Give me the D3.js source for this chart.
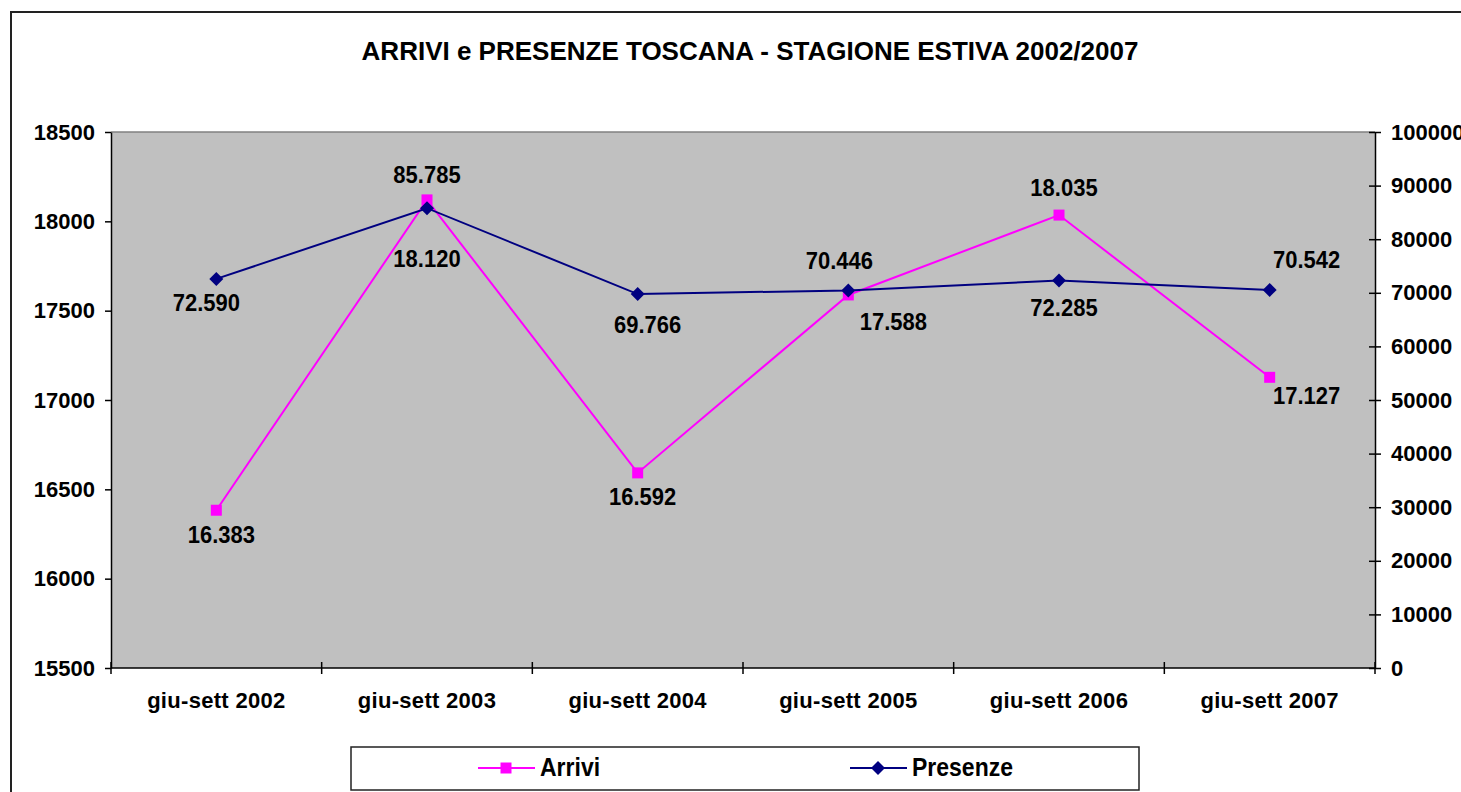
<!DOCTYPE html>
<html lang="it">
<head>
    <meta charset="UTF-8">
    <script src="https://d3js.org/d3.v7.min.js"></script>
    <title>Arrivi e presenze Toscana</title>
    <style>
        body { margin: 0; background: #fff; }
        text { font-family: "Liberation Sans", Arial, sans-serif; font-weight: bold; fill: #000; }
        .axis path, .axis line { stroke: #000; stroke-width: 1.5; }
        .axis text { font-size: 22px; }
    </style>
</head>
<body>
    <svg width="1461" height="792"></svg>
    <script>
        // data
        var categories = ["giu-sett 2002", "giu-sett 2003", "giu-sett 2004",
                          "giu-sett 2005", "giu-sett 2006", "giu-sett 2007"];
        var arrivi   = [16383, 18120, 16592, 17588, 18035, 17127];
        var presenze = [72590, 85785, 69766, 70446, 72285, 70542];
        var leftTicks  = [15500, 16000, 16500, 17000, 17500, 18000, 18500];
        var rightTicks = [0, 10000, 20000, 30000, 40000, 50000, 60000, 70000, 80000, 90000, 100000];
        var title = "ARRIVI e PRESENZE TOSCANA - STAGIONE ESTIVA 2002/2007";

        // where each value label sits relative to its point (dx, dy to baseline)
        var arriviLabelOff   = [[5, 33], [0, 67], [5, 32], [45, 35], [5, -19], [37, 27]];
        var presenzeLabelOff = [[-10, 32], [0, -25], [10, 39], [-9, -21], [5, 35], [37, -22]];

        var pink = "#ff00ff", navy = "#000080";
        var stretch = 1.12; // value labels look a bit taller than wide

        var svg = d3.select("svg");
        var pLeft = 111, pRight = 1375, pTop = 132, pBottom = 668;

        var it = d3.formatLocale({decimal: ",", thousands: ".", grouping: [3], currency: ["", "€"]});
        var fmt = it.format(",");

        var x = d3.scaleBand().domain(categories).range([pLeft, pRight]);
        var cx = function(c) { return x(c) + x.bandwidth() / 2; };
        var yL = d3.scaleLinear().domain([15500, 18500]).range([pBottom, pTop]);
        var yR = d3.scaleLinear().domain([0, 100000]).range([pBottom, pTop]);

        // outer chart border (runs off right and bottom edges)
        svg.append("rect")
           .attr("x", 11).attr("y", 12)
           .attr("width", 1500).attr("height", 850)
           .attr("fill", "none")
           .attr("stroke", "#222")
           .attr("stroke-width", 2);

        function stretchedText(g, px, py, str, size, anchor, sy) {
            return g.append("text")
                    .attr("transform", "translate(" + px + "," + py + ") scale(1," + (sy || stretch) + ")")
                    .style("font-size", size + "px")
                    .attr("text-anchor", anchor || "middle")
                    .text(str);
        }

        stretchedText(svg, 750, 60, title, 26, "middle", 1);

        // plot area
        svg.append("rect")
           .attr("x", pLeft).attr("y", pTop)
           .attr("width", pRight - pLeft).attr("height", pBottom - pTop)
           .attr("fill", "#c0c0c0");
        svg.append("line")
           .attr("x1", pLeft).attr("x2", pRight)
           .attr("y1", pTop).attr("y2", pTop)
           .attr("stroke", "#808080").attr("stroke-width", 1.5);

        // left axis
        svg.append("g")
           .attr("class", "axis")
           .attr("transform", "translate(" + pLeft + ",0)")
           .call(d3.axisLeft(yL).tickValues(leftTicks).tickSizeInner(6).tickSizeOuter(0).tickPadding(10).tickFormat(d3.format("d")));

        // right axis, ticks crossing the line
        var rAxis = svg.append("g")
           .attr("class", "axis")
           .attr("transform", "translate(" + pRight + ",0)")
           .call(d3.axisRight(yR).tickValues(rightTicks).tickSizeInner(6).tickSizeOuter(0).tickPadding(10).tickFormat(d3.format("d")));
        rAxis.selectAll(".tick line").attr("x1", -6);

        // category axis
        var xAxis = svg.append("g").attr("class", "axis");
        xAxis.append("line")
             .attr("x1", pLeft).attr("x2", pRight)
             .attr("y1", pBottom).attr("y2", pBottom);
        var bounds = categories.map(function(c) { return x(c); }).concat([pRight]);
        xAxis.selectAll(".xtick")
             .data(bounds)
             .enter().append("line")
             .attr("x1", function(d) { return d; })
             .attr("x2", function(d) { return d; })
             .attr("y1", pBottom - 6)
             .attr("y2", pBottom + 6);
        xAxis.selectAll(".xlab")
             .data(categories)
             .enter().append("text")
             .attr("x", cx)
             .attr("y", 708)
             .attr("text-anchor", "middle")
             .style("letter-spacing", "0.3px")
             .text(function(d) { return d; });

        svg.selectAll(".axis text").style("font-size", "22px");

        // lines
        var lineL = d3.line().x(function(d, i) { return cx(categories[i]); }).y(function(d) { return yL(d); });
        var lineR = d3.line().x(function(d, i) { return cx(categories[i]); }).y(function(d) { return yR(d); });

        svg.append("path").datum(arrivi)
           .attr("d", lineL).attr("fill", "none")
           .attr("stroke", pink).attr("stroke-width", 2);
        svg.append("path").datum(presenze)
           .attr("d", lineR).attr("fill", "none")
           .attr("stroke", navy).attr("stroke-width", 2);

        var square = d3.symbol().type(d3.symbolSquare).size(121);
        var diamond = "M0,-7L7,0L0,7L-7,0Z";

        svg.selectAll(".mA")
           .data(arrivi)
           .enter().append("path")
           .attr("d", square)
           .attr("fill", pink)
           .attr("transform", function(d, i) { return "translate(" + cx(categories[i]) + "," + yL(d) + ")"; });
        svg.selectAll(".mP")
           .data(presenze)
           .enter().append("path")
           .attr("d", diamond)
           .attr("fill", navy)
           .attr("transform", function(d, i) { return "translate(" + cx(categories[i]) + "," + yR(d) + ")"; });

        // value labels
        var labels = svg.append("g");
        arrivi.forEach(function(d, i) {
            var o = arriviLabelOff[i];
            stretchedText(labels, cx(categories[i]) + o[0], yL(d) + o[1], fmt(d), 22);
        });
        presenze.forEach(function(d, i) {
            var o = presenzeLabelOff[i];
            stretchedText(labels, cx(categories[i]) + o[0], yR(d) + o[1], fmt(d), 22);
        });

        // legend
        var legend = svg.append("g");
        legend.append("rect")
              .attr("x", 351).attr("y", 747)
              .attr("width", 788).attr("height", 43)
              .attr("fill", "#fff")
              .attr("stroke", "#222").attr("stroke-width", 1.5);
        var legendItems = [
            {name: "Arrivi", color: pink, mark: square, x0: 478},
            {name: "Presenze", color: navy, mark: diamond, x0: 850}
        ];
        legendItems.forEach(function(d) {
            legend.append("line")
                  .attr("x1", d.x0).attr("x2", d.x0 + 57)
                  .attr("y1", 768).attr("y2", 768)
                  .attr("stroke", d.color).attr("stroke-width", 2);
            legend.append("path")
                  .attr("d", d.mark)
                  .attr("fill", d.color)
                  .attr("transform", "translate(" + (d.x0 + 28) + ",768)");
            stretchedText(legend, d.x0 + 62, 776, d.name, 23, "start");
        });
    </script>
</body>
</html>
